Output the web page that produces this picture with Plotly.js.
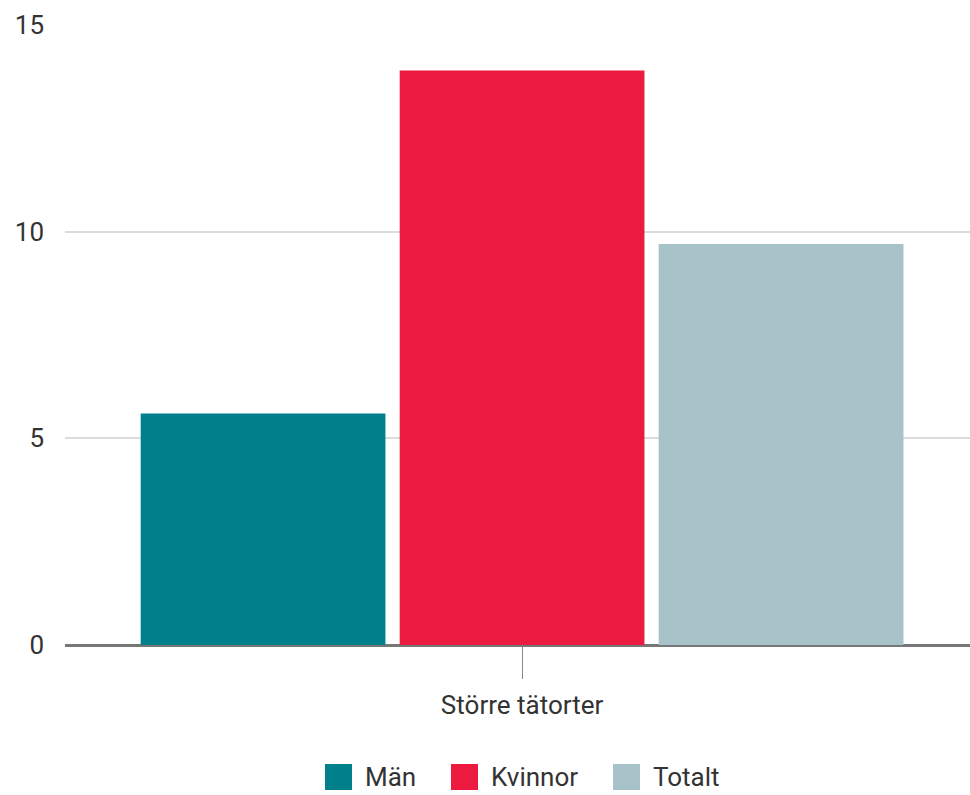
<!DOCTYPE html>
<html><head><meta charset="utf-8">
<script src="https://cdn.plot.ly/plotly-3.0.1.min.js"></script>
<style>body{margin:0;background:#fff}#chart{width:970px;height:795px}</style>
</head><body><div id="chart"></div>
<script>
const categories = ["Större tätorter"];
const seriesNames = ["Män", "Kvinnor", "Totalt"];
const man = [5.6];
const kvinnor = [13.9];
const totalt = [9.7];
const yTicks = [0, 5, 10, 15];
const colors = ["#00808B", "#EB1A3E", "#A7C2C8"];
const values = [man, kvinnor, totalt];

const traces = values.map((v, i) => ({
  type: "bar", x: categories, y: v, name: seriesNames[i],
  marker: {color: colors[i]}, hoverinfo: "none", showlegend: false
}));

// Custom legend (large squares) placed below the plot
const L = 65, W = 905, T = 25, H = 620;
const px = x => (x - L) / W;
const py = y => (T + H - y) / H;
const legendX = [325, 451, 613];
const shapes = [], annotations = [];
seriesNames.forEach((n, i) => {
  shapes.push({type: "rect", xref: "paper", yref: "paper",
    x0: px(legendX[i]), x1: px(legendX[i] + 27), y0: py(790), y1: py(764),
    fillcolor: colors[i], line: {width: 0}});
  annotations.push({xref: "paper", yref: "paper", x: px(legendX[i] + 38), y: py(777),
    xanchor: "left", yanchor: "middle", text: n, showarrow: false,
    font: {size: 26, color: "#333"}});
});

const layout = {
  width: 970, height: 795,
  margin: {l: 65, r: 0, t: 25, b: 150},
  paper_bgcolor: "#fff", plot_bgcolor: "#fff",
  font: {family: "Roboto, sans-serif", size: 26, color: "#333"},
  barmode: "group", bargap: 0.15, bargroupgap: 0.055,
  xaxis: {type: "category", range: [-0.5, 0.49], showgrid: false,
    ticks: "outside", ticklen: 33, tickcolor: "#888", tickwidth: 1,
    ticklabelstandoff: 4,
    showline: false, zeroline: false, tickfont: {size: 26, color: "#333"}},
  yaxis: {range: [0, 15], tickvals: yTicks, ticktext: yTicks.map(String),
    showgrid: true, gridcolor: "#dcdcdc", gridwidth: 2,
    zeroline: true, zerolinecolor: "#777", zerolinewidth: 3,
    ticks: "", ticklabelstandoff: 20, tickfont: {size: 26, color: "#333"}},
  showlegend: false,
  shapes: shapes, annotations: annotations
};
Plotly.newPlot("chart", traces, layout, {displayModeBar: false, staticPlot: true});
</script></body></html>
